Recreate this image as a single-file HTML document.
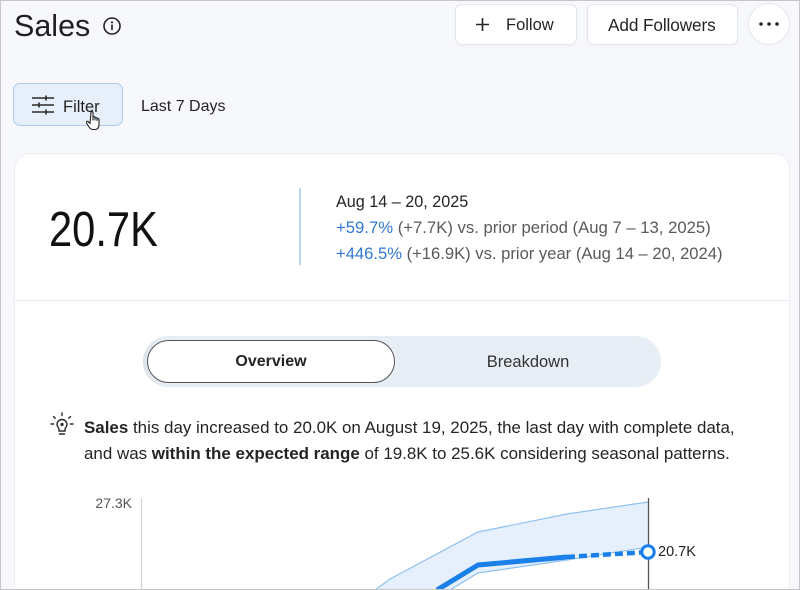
<!DOCTYPE html>
<html><head><meta charset="utf-8">
<style>
*{margin:0;padding:0;box-sizing:border-box}
html,body{width:800px;height:590px;overflow:hidden;background:#f7f8fb;font-family:"Liberation Sans",sans-serif;color:#242424}
#wrap{position:relative;width:800px;height:590px;overflow:hidden}
.frame{position:absolute;left:0;top:0;width:800px;height:590px;border:1px solid #c6c6c6;pointer-events:none;z-index:10}
.abs{position:absolute;white-space:nowrap}
.btn{position:absolute;background:#fff;border:1px solid #e3e6ec;border-radius:7px;box-shadow:0 1px 2px rgba(0,0,0,0.04)}
.card{position:absolute;left:14px;top:153px;width:776px;height:437px;background:#fff;border:1px solid #eceef4;border-bottom:none;border-radius:16px 16px 0 0}
</style></head><body>
<div id="wrap">
<div class="frame"></div>

<!-- Title -->
<div class="abs" style="left:14px;top:6px;font-size:30.5px;line-height:40px;color:#1f1f1f">Sales</div>
<svg class="abs" style="left:102px;top:16px" width="20" height="20" viewBox="0 0 20 20">
<circle cx="10" cy="10" r="8" fill="none" stroke="#242424" stroke-width="1.6"/>
<circle cx="10" cy="6.3" r="1.1" fill="#242424"/>
<rect x="9.2" y="8.5" width="1.6" height="5.6" fill="#242424"/>
</svg>

<!-- Header buttons -->
<div class="btn" style="left:455px;top:4px;width:122px;height:41px"></div>
<svg class="abs" style="left:475px;top:17px" width="15" height="15" viewBox="0 0 15 15"><path d="M7.5 1v13M1 7.5h13" stroke="#242424" stroke-width="1.6"/></svg>
<div class="abs" style="left:506px;top:15px;font-size:16.5px;line-height:20px;color:#242424">Follow</div>

<div class="btn" style="left:587px;top:4px;width:151px;height:41px"></div>
<div class="abs" style="left:608px;top:15px;font-size:17.2px;line-height:20px;color:#242424;letter-spacing:-0.1px">Add Followers</div>

<div class="abs" style="left:748px;top:3px;width:42px;height:42px;border-radius:50%;background:#fff;border:1px solid #e3e6ec"></div>
<svg class="abs" style="left:757px;top:21px" width="24" height="6" viewBox="0 0 24 6">
<circle cx="4" cy="3" r="1.8" fill="#242424"/><circle cx="12" cy="3" r="1.8" fill="#242424"/><circle cx="20" cy="3" r="1.8" fill="#242424"/>
</svg>

<!-- Filter -->
<div class="abs" style="left:13px;top:83px;width:110px;height:43px;background:#e7effa;border:1px solid #b1caec;border-radius:7px"></div>
<svg class="abs" style="left:31px;top:95px" width="24" height="20" viewBox="0 0 24 20">
<g stroke="#2b2b2b" stroke-width="1.6">
<path d="M1 3h22M1 10h22M1 17h22"/>
<path d="M15 0.5v5M8 7.5v5M15 14.5v5"/>
</g>
</svg>
<div class="abs" style="left:63px;top:97px;font-size:16.5px;line-height:20px;color:#242424">Filter</div>
<svg class="abs" style="left:86px;top:110px" width="18" height="22" viewBox="0 0 18 22">
<path d="M5 2.5c0-1.2 2-1.2 2 0v7.5l0-2.5c0-1.2 2-1.2 2 0v2.5-1.5c0-1.2 2-1.2 2 0v2 -1c0-1.2 2-1.2 2 0v5c0 3-1.5 5-4.5 5h-1.5c-2 0-3-1-4-2.5l-2.5-4c-0.8-1.2 0.8-2.2 1.8-1.2l1.7 1.7z" fill="#fff" stroke="#222" stroke-width="1.1" stroke-linejoin="round"/>
</svg>
<div class="abs" style="left:141px;top:97px;font-size:16px;line-height:20px;color:#242424">Last 7 Days</div>

<!-- Card -->
<div class="card"></div>
<div class="abs" style="left:49px;top:201px;font-size:49px;line-height:58px;color:#111;transform:scaleX(0.85);transform-origin:0 0">20.7K</div>
<div class="abs" style="left:299px;top:188px;width:2px;height:77px;background:#bcd6ef"></div>
<div class="abs" style="left:336px;top:189px;font-size:16.2px;line-height:26px;color:#242424">Aug 14 – 20, 2025</div>
<div class="abs" style="left:336px;top:215px;font-size:16.7px;line-height:26px;color:#5a5a5a"><span style="color:#3079d0">+59.7%</span> (+7.7K) vs. prior period (Aug 7 – 13, 2025)</div>
<div class="abs" style="left:336px;top:241px;font-size:16.6px;line-height:26px;color:#5a5a5a"><span style="color:#3079d0">+446.5%</span> (+16.9K) vs. prior year (Aug 14 – 20, 2024)</div>
<div class="abs" style="left:15px;top:300px;width:774px;height:1px;background:#e7e9f7"></div>

<!-- Segmented -->
<div class="abs" style="left:143px;top:336px;width:518px;height:51px;background:#e8eef5;border-radius:26px;box-shadow:inset 6px 0 8px -6px rgba(0,0,0,0.12)"></div>
<div class="abs" style="left:147px;top:340px;width:248px;height:43px;background:#fff;border:1.5px solid #555;border-radius:22px"></div>
<div class="abs" style="left:147px;top:352px;width:248px;text-align:center;font-size:16px;line-height:20px;font-weight:bold;color:#242424">Overview</div>
<div class="abs" style="left:395px;top:352px;width:266px;text-align:center;font-size:16.5px;line-height:20px;color:#333">Breakdown</div>

<!-- Insight -->
<svg class="abs" style="left:50px;top:412px" width="24" height="26" viewBox="0 0 24 26">
<g stroke="#2b2b2b" stroke-width="1.4" fill="none" stroke-linecap="round">
<path d="M12 1v2.5M3.5 4.5l1.8 1.8M20.5 4.5l-1.8 1.8M1 12h2.5M23 12h-2.5"/>
<path d="M7 12.5a5 5 0 1 1 10 0c0 2-1.5 3-2 4.5v2h-6v-2c-0.5-1.5-2-2.5-2-4.5z"/>
<path d="M9.5 22h5"/>
</g>
<circle cx="12" cy="12.5" r="1.6" fill="#2b2b2b"/>
</svg>
<div class="abs" style="left:84px;top:418px;font-size:16.95px;line-height:20px;color:#242424"><b>Sales</b> this day increased to 20.0K on August 19, 2025, the last day with complete data,</div>
<div class="abs" style="left:84px;top:444px;font-size:16.95px;line-height:20px;color:#242424">and was <b>within the expected range</b> of 19.8K to 25.6K considering seasonal patterns.</div>

<!-- Chart -->
<div class="abs" style="left:80px;top:495px;width:52px;text-align:right;font-size:14px;line-height:16px;color:#555">27.3K</div>
<svg class="abs" style="left:0;top:0" width="800" height="590" viewBox="0 0 800 590">
<line x1="141.5" y1="498" x2="141.5" y2="590" stroke="#d3d3d3" stroke-width="1.2"/>
<polygon points="375,590 390,579 478,532 567,514 648,502 648,547 567,560 478,573 450,590" fill="#e5f0fc"/>
<polyline points="375,590 390,579 478,532 567,514 648,502" fill="none" stroke="#8fc0ee" stroke-width="1.2"/>
<polyline points="450,590 478,573 567,560 648,547" fill="none" stroke="#8fc0ee" stroke-width="1.2"/>
<line x1="648.5" y1="498" x2="648.5" y2="590" stroke="#555" stroke-width="1.3"/>
<polyline points="437,590 478,565 567,557" fill="none" stroke="#1a7fe8" stroke-width="5" stroke-linejoin="round"/>
<line x1="567" y1="557" x2="642" y2="552.4" stroke="#1a7fe8" stroke-width="4.5" stroke-dasharray="8,4"/>
<circle cx="648" cy="552" r="6.2" fill="#fff" stroke="#1a7fe8" stroke-width="3"/>
</svg>
<div class="abs" style="left:658px;top:543px;font-size:14.5px;line-height:18px;color:#1f1f1f">20.7K</div>
</div>
</body></html>
